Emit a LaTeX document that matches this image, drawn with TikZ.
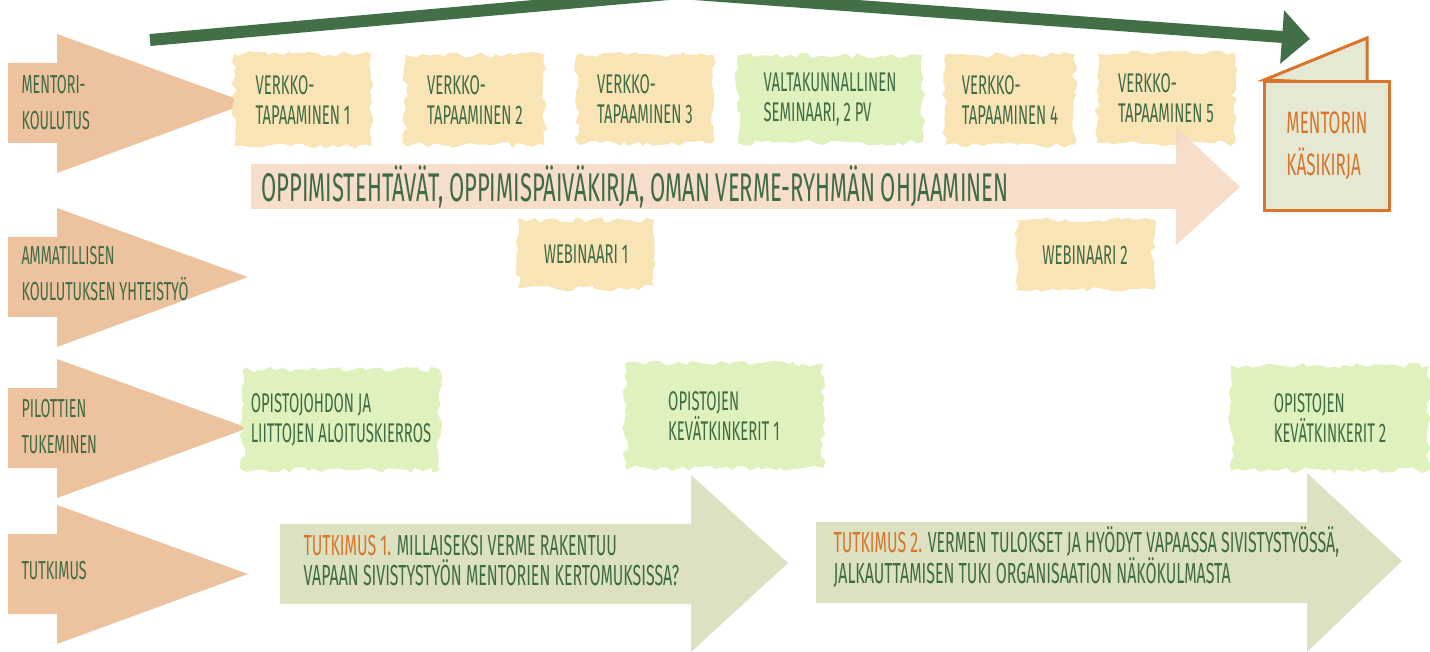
\documentclass[tikz,border=0pt]{standalone}
\usepackage{fontspec}
\setmainfont{Fira Sans}[FakeStretch=0.55]
\usepackage{tikz}
\usetikzlibrary{arrows.meta, decorations.pathmorphing}
\definecolor{rowpeach}{HTML}{EDC29E}
\definecolor{pathpeach}{HTML}{F4D8C2}
\definecolor{sage}{HTML}{DCE1C2}
\definecolor{blobyellow}{HTML}{F9E4B6}
\definecolor{blobgreen}{HTML}{DFF1BD}
\definecolor{darkgreen}{HTML}{436F48}
\definecolor{textgreen}{HTML}{3F6B44}
\definecolor{bookorange}{HTML}{D9742B}
\definecolor{bookfill}{HTML}{E5E9D3}

\begin{document}
\begin{tikzpicture}[x=1pt, y=-1pt,
    rowarrow/.style={fill=rowpeach},
    rowlabel/.style={anchor=west, align=left, text=textgreen, font=\fontsize{26}{36}\selectfont},
    blob/.style={decorate, decoration={random steps, segment length=6pt, amplitude=3pt},
      align=left, text=textgreen, inner sep=0pt, font=\fontsize{27}{30}\selectfont},
    yellowblob/.style={blob, fill=blobyellow},
    greenblob/.style={blob, fill=blobgreen},
    bigtext/.style={anchor=west, text=textgreen, font=\fontsize{40}{44}\selectfont},
    studytext/.style={anchor=west, align=left, text=textgreen, font=\fontsize{29}{30}\selectfont},
    bookpage/.style={draw=bookorange, line width=3pt, fill=bookfill},
    topline/.style={draw=darkgreen, line width=12pt, -{Triangle[length=28pt, width=52pt]}}]
  \useasboundingbox (0,0) rectangle (1430,652);
  \pgfmathsetseed{11}

  % row arrows on the left
  \fill[rowarrow, shift={(0,103)}] (8,-40) -- (57,-40) -- (57,-69) -- (248,0) -- (57,70) -- (57,40) -- (8,40) -- cycle;
  \fill[rowarrow, shift={(0,277)}] (8,-40) -- (57,-40) -- (57,-69) -- (248,0) -- (57,70) -- (57,40) -- (8,40) -- cycle;
  \fill[rowarrow, shift={(0,428)}] (8,-40) -- (57,-40) -- (57,-69) -- (248,0) -- (57,70) -- (57,40) -- (8,40) -- cycle;
  \fill[rowarrow, shift={(0,574)}] (8,-40) -- (57,-40) -- (57,-69) -- (248,0) -- (57,70) -- (57,40) -- (8,40) -- cycle;
  \node[rowlabel] (mentori) at (18,103) {MENTORI-\\KOULUTUS};
  \node[rowlabel] (ammatillinen) at (18,274) {AMMATILLISEN\\KOULUTUKSEN YHTEISTYÖ};
  \node[rowlabel] (pilotit) at (18,427) {PILOTTIEN\\TUKEMINEN};
  \node[rowlabel] (tutkimus) at (18,571) {TUTKIMUS};

  % meetings
  \node[yellowblob, minimum width=137pt, minimum height=92pt] (verkko1) at (303,100) {VERKKO-\\TAPAAMINEN 1};
  \node[yellowblob, minimum width=140pt, minimum height=90pt] (verkko2) at (475,100) {VERKKO-\\TAPAAMINEN 2};
  \node[yellowblob, minimum width=136pt, minimum height=89pt] (verkko3) at (645,99) {VERKKO-\\TAPAAMINEN 3};
  \node[greenblob, minimum width=185pt, minimum height=87pt] (seminaari) at (830,99) {VALTAKUNNALLINEN\\SEMINAARI, 2 PV};
  \node[yellowblob, minimum width=130pt, minimum height=90pt] (verkko4) at (1010,100) {VERKKO-\\TAPAAMINEN 4};
  \node[yellowblob, minimum width=137pt, minimum height=90pt] (verkko5) at (1166,98) {VERKKO-\\TAPAAMINEN 5};
  \node[yellowblob, minimum width=136pt, minimum height=68pt] (webinaari1) at (586,254) {WEBINAARI 1};
  \node[yellowblob, minimum width=137pt, minimum height=70pt] (webinaari2) at (1085,255) {WEBINAARI 2};
  \node[greenblob, minimum width=197pt, minimum height=101pt] (kierros) at (341,420) {OPISTOJOHDON JA\\LIITTOJEN ALOITUSKIERROS};
  \node[greenblob, minimum width=198pt, minimum height=105pt] (kinkerit1) at (724,416) {OPISTOJEN\\KEVÄTKINKERIT 1};
  \node[greenblob, minimum width=198pt, minimum height=105pt] (kinkerit2) at (1330,418) {OPISTOJEN\\KEVÄTKINKERIT 2};

  % long arrow of tasks
  \fill[pathpeach, opacity=.85] (251,164) -- (1176,164) -- (1176,127) -- (1240,187) -- (1176,245) -- (1176,209) -- (251,209) -- cycle;
  \node[bigtext] (tehtavat) at (258,187) {OPPIMISTEHTÄVÄT, OPPIMISPÄIVÄKIRJA, OMAN VERME-RYHMÄN OHJAAMINEN};

  % research arrows
  \fill[sage] (280,524) -- (691,524) -- (691,475) -- (788,563) -- (691,652) -- (691,604) -- (280,604) -- cycle;
  \fill[sage] (816,522) -- (1307,522) -- (1307,473) -- (1402,561) -- (1307,652) -- (1307,603) -- (816,603) -- cycle;
  \node[studytext] (tutkimus1) at (300,561) {{\color{bookorange}TUTKIMUS 1.} MILLAISEKSI VERME RAKENTUU\\VAPAAN SIVISTYSTYÖN MENTORIEN KERTOMUKSISSA?};
  \node[studytext] (tutkimus2) at (830,557) {{\color{bookorange}TUTKIMUS 2.} VERMEN TULOKSET JA HYÖDYT VAPAASSA SIVISTYSTYÖSSÄ,\\JALKAUTTAMISEN TUKI ORGANISAATION NÄKÖKULMASTA};

  % handbook
  \filldraw[bookpage] (1264,80) -- (1367,38) -- (1367,84) -- cycle;
  \node[bookpage, minimum width=125pt, minimum height=129pt, align=left, text=bookorange,
    font=\fontsize{31}{42}\selectfont] (kasikirja) at (1327,146) {MENTORIN\\KÄSIKIRJA};

  % green arrow over the top
  \coordinate (alku) at (150,40);
  \coordinate (huippu) at (680,-7);
  \coordinate (kirjaan) at (1310,39);
  \draw[topline] (alku) -- (huippu) -- (kirjaan);
\end{tikzpicture}
\end{document}
